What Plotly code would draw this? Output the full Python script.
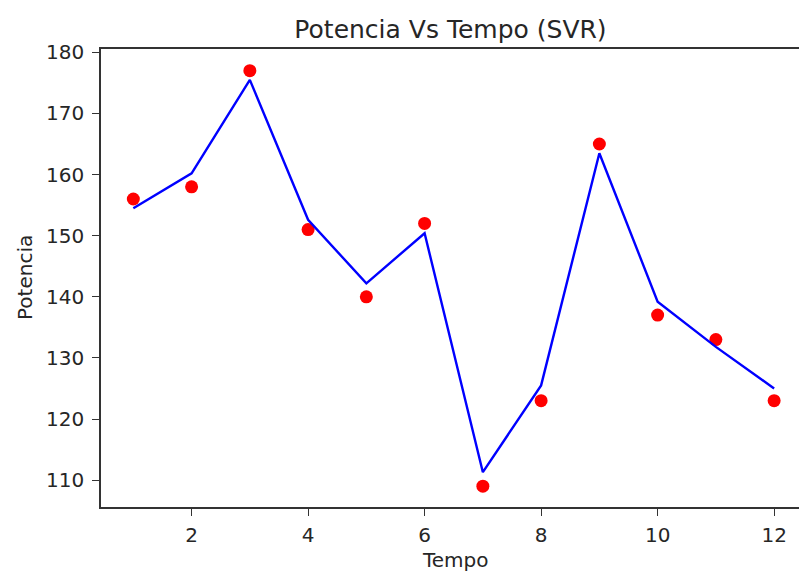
import plotly.graph_objects as go

# Observed power and SVR-predicted power per time step
tempo = [1, 2, 3, 4, 5, 6, 7, 8, 9, 10, 11, 12]
potencia_real = [156, 158, 177, 151, 140, 152, 109, 123, 165, 137, 133, 123]
potencia_svr = [154.5, 160.2, 175.5, 152.6, 142.2, 150.4, 111.3, 125.5, 163.5, 139.2, 131.8, 125.0]

x_ticks = [2, 4, 6, 8, 10, 12]
y_ticks = [110, 120, 130, 140, 150, 160, 170, 180]

FONT = "DejaVu Sans"
TXT = "#262626"

fig = go.Figure()
fig.add_trace(go.Scatter(
    x=tempo, y=potencia_real, mode="markers",
    marker=dict(color="#ff0000", size=13, line=dict(width=0)),
    showlegend=False, hoverinfo="skip",
))
fig.add_trace(go.Scatter(
    x=tempo, y=potencia_svr, mode="lines",
    line=dict(color="#0000ff", width=2.4),
    showlegend=False, hoverinfo="skip",
))

fig.update_layout(
    width=799, height=576,
    margin=dict(l=101, r=0, t=49, b=69),
    paper_bgcolor="white", plot_bgcolor="white",
    font=dict(family=FONT, size=20, color=TXT),
    xaxis=dict(
        range=[0.445, 12.427], tickvals=x_ticks, ticktext=[str(v) for v in x_ticks],
        showgrid=False, zeroline=False,
        showline=True, linecolor="#333333", linewidth=1.6, mirror=True,
        ticks="outside", ticklen=7, tickwidth=1.4, tickcolor="#333333",
        ticklabelstandoff=2,
        tickfont=dict(family=FONT, size=20, color=TXT),
    ),
    yaxis=dict(
        range=[105.6, 180.55], tickvals=y_ticks, ticktext=[str(v) for v in y_ticks],
        showgrid=False, zeroline=False,
        showline=True, linecolor="#333333", linewidth=1.6, mirror=False,
        ticks="outside", ticklen=7, tickwidth=1.4, tickcolor="#333333",
        ticklabelstandoff=4,
        tickfont=dict(family=FONT, size=20, color=TXT),
    ),
    title=dict(
        text="Potencia Vs Tempo (SVR)",
        x=450.5 / 799, xref="container", xanchor="center",
        y=1 - 29 / 576, yref="container", yanchor="middle",
        font=dict(family=FONT, size=25, color=TXT),
    ),
)

# Axis titles placed as free text
fig.add_annotation(
    text="Tempo", xref="paper", yref="paper",
    x=(455 - 101) / 698, y=-(560 - 507) / 458,
    xanchor="center", yanchor="middle", showarrow=False,
    font=dict(family=FONT, size=20, color=TXT),
)
fig.add_annotation(
    text="Potencia", xref="paper", yref="paper",
    x=-(101 - 25) / 698, y=0.5, textangle=-90,
    xanchor="center", yanchor="middle", showarrow=False,
    font=dict(family=FONT, size=20, color=TXT),
)

fig.write_html("out.html")
